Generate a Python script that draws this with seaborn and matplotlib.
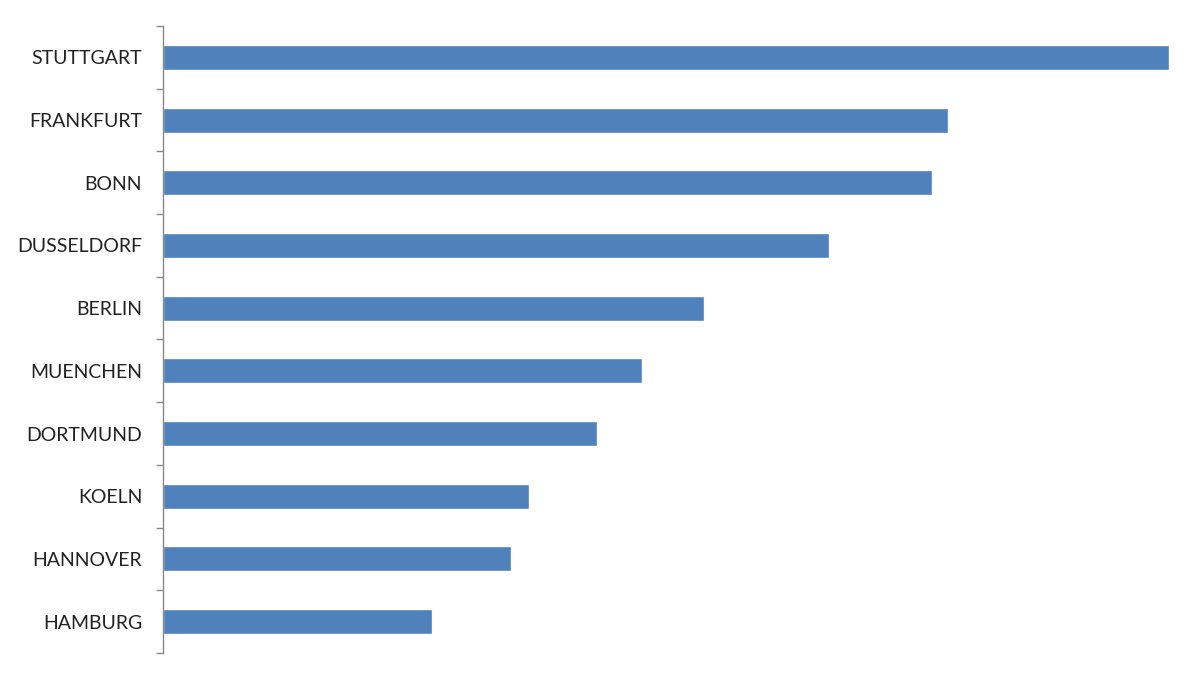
import matplotlib
matplotlib.use("Agg")
import matplotlib.pyplot as plt
import seaborn as sns
import numpy as np

# City values (bar lengths, no scale shown)
cities = ['STUTTGART', 'FRANKFURT', 'BONN', 'DUSSELDORF', 'BERLIN',
          'MUENCHEN', 'DORTMUND', 'KOELN', 'HANNOVER', 'HAMBURG']
values = [1003, 783, 767, 664, 539, 478, 433, 365, 347, 268]

sns.set_style('white')
plt.rcParams['font.family'] = ['Lato', 'DejaVu Sans']

fig = plt.figure(figsize=(12, 6.8), dpi=100)
ax = fig.add_axes([163 / 1200, 27 / 680, (1170 - 163) / 1200, (654 - 27) / 680])

sns.barplot(x=values, y=cities, orient='h', color='#4F81BD', width=0.4,
            saturation=1, ax=ax)

ax.set_xlim(0, 1004)
ax.set_ylim(len(cities) - 0.5, -0.5)
ax.set_xlabel('')
ax.set_ylabel('')
ax.set_xticks([])

# labels without tick lines, small tick marks between categories
ax.tick_params(axis='y', which='major', length=0, pad=15, labelsize=14,
               labelcolor='#222222')
ax.set_yticks(np.arange(-0.5, len(cities), 1), minor=True)
ax.tick_params(axis='y', which='minor', length=5, width=1, color='#888888',
               direction='out', left=True)

for side in ['top', 'right', 'bottom']:
    ax.spines[side].set_visible(False)
ax.spines['left'].set_color('#888888')
ax.spines['left'].set_linewidth(1)

fig.savefig('out.png', dpi=100)
